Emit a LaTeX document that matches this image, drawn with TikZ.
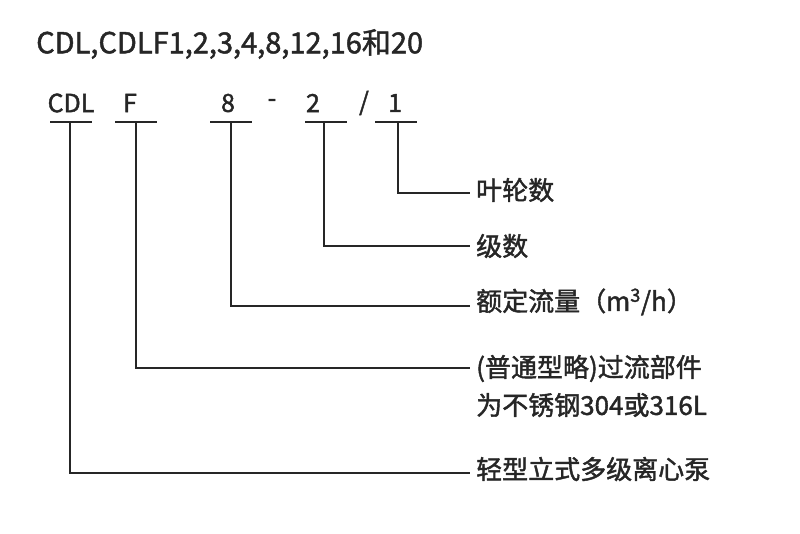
\documentclass[tikz,border=0pt]{standalone}
\usepackage{fontspec}
\setmainfont{Noto Sans}
\newfontfamily\cjk[FakeBold=1.6]{Noto Sans CJK SC}
\begin{document}
\begin{tikzpicture}[x=1pt,y=-1pt,
  ln/.style={line width=1.6pt,color=black!85},
  code/.style={font=\cjk\fontsize{25}{28}\selectfont,text=black!85,inner sep=0pt},
  lab/.style={font=\cjk\fontsize{26}{38}\selectfont,text=black!85,anchor=west,inner sep=0pt,align=left}]
\useasboundingbox (0,0) rectangle (800,533);
\node[code,anchor=west,font=\cjk\fontsize{29}{32}\selectfont] (t) at (36,44) {CDL,CDLF1,2,3,4,8,12,16和20};
\node[code] (c1) at (71,103) {CDL};
\node[code] (c2) at (130,103) {F};
\node[code] (c3) at (228,103) {8};
\node[code] (c4) at (272,103) {-};
\node[code] (c5) at (313,103) {2};
\node[code] (c6) at (364,103) {/};
\node[code] (c7) at (395,103) {1};
\foreach \a/\b in {50/92,115/157,210/252,305/347,375/417}{\draw[ln] (\a,122)--(\b,122);}
\node[lab] (l1) at (476,190) {叶轮数};
\node[lab] (l2) at (476,246) {级数};
\node[lab] (l3) at (476,302) {额定流量（m\textsuperscript{3}/h）};
\node[lab] (l4) at (476,386) {(普通型略)过流部件\\为不锈钢304或316L};
\node[lab] (l5) at (476,469) {轻型立式多级离心泵};
\draw[ln] (398,122)|-(470,193);
\draw[ln] (324,122)|-(470,246);
\draw[ln] (231,122)|-(470,306);
\draw[ln] (136,122)|-(470,368);
\draw[ln] (70,122)|-(470,473);
\end{tikzpicture}
\end{document}
